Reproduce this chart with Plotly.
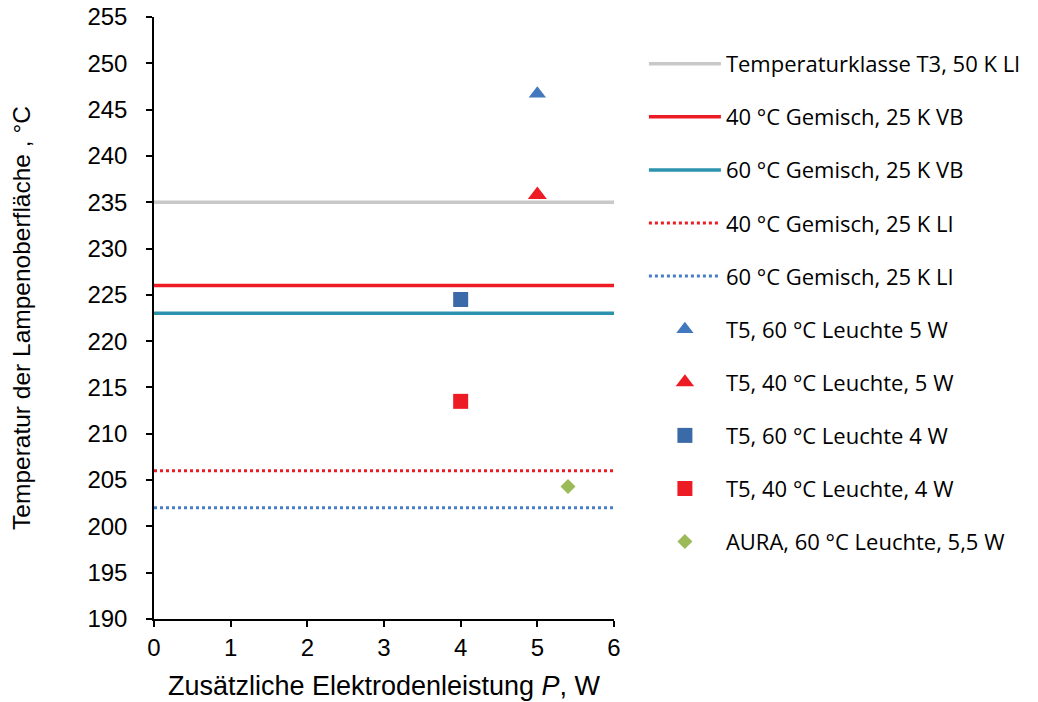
import plotly.graph_objects as go

# Horizontal reference lines (x from 0 to 6)
line_x = [0, 6]
line_names = [
    "Temperaturklasse T3, 50 K LI",
    "40 °C Gemisch, 25 K VB",
    "60 °C Gemisch, 25 K VB",
    "40 °C Gemisch, 25 K LI",
    "60 °C Gemisch, 25 K LI",
]
line_values = [235, 226, 223, 206, 202]
line_colors = ["#C8C8C8", "#ED1C24", "#2C93AF", "#ED1C24", "#4A7EC4"]
line_dash = ["solid", "solid", "solid", "dot", "dot"]

# Measured points
point_names = [
    "T5, 60 °C Leuchte 5 W",
    "T5, 40 °C Leuchte, 5 W",
    "T5, 60 °C Leuchte 4 W",
    "T5, 40 °C Leuchte, 4 W",
    "AURA, 60 °C Leuchte, 5,5 W",
]
point_x = [5, 5, 4, 4, 5.4]
point_y = [246.7, 235.8, 224.5, 213.5, 204.3]
point_symbols = ["triangle-up", "triangle-up", "square", "square", "diamond"]
point_colors = ["#4178BE", "#ED1C24", "#3A6BA8", "#ED1C24", "#9BBB59"]
point_sizes = [15, 16.5, 15, 15, 11.5]

x_ticks = [0, 1, 2, 3, 4, 5, 6]
y_ticks = list(range(190, 256, 5))

fig = go.Figure()
for i, (n, v, c, d) in enumerate(zip(line_names, line_values, line_colors, line_dash)):
    fig.add_trace(go.Scatter(
        x=line_x, y=[v, v], mode="lines", name=n, legendgroup=f"g{i}",
        line=dict(color=c, width=3.5 if d == "solid" else 3, dash=d),
    ))
for i, (n, xx, yy, s, c, sz) in enumerate(zip(point_names, point_x, point_y, point_symbols, point_colors, point_sizes)):
    fig.add_trace(go.Scatter(
        x=[xx], y=[yy], mode="markers", name=n, legendgroup=f"p{i}",
        marker=dict(symbol=s, color=c, size=sz, line=dict(width=0)),
    ))

axis_font = dict(family="Liberation Sans, Arial", size=24, color="#000000")
xtitle_font = dict(family="Liberation Sans, Arial", size=27, color="#000000")
ytitle_font = dict(family="Liberation Sans, Arial", size=24.5, color="#000000")
fig.update_layout(
    width=1038, height=702,
    margin=dict(l=154, r=424, t=17, b=83),
    paper_bgcolor="white", plot_bgcolor="white",
    showlegend=True,
    legend=dict(
        x=1.065, y=0.957, xanchor="left", yanchor="top",
        font=dict(family="Open Sans, Noto Sans", size=22, color="#000000"),
        tracegroupgap=21.5, itemwidth=72,
        bgcolor="rgba(0,0,0,0)",
    ),
    xaxis=dict(
        range=[0, 6], tickvals=x_ticks, ticktext=[str(t) for t in x_ticks],
        showline=True, linecolor="#000000", linewidth=1.5,
        ticks="outside", ticklen=6, tickcolor="#000000", tickwidth=1.5,
        showgrid=False, zeroline=False, tickfont=axis_font, automargin=False,
        title=dict(text="Zusätzliche Elektrodenleistung <i>P</i>, W", font=xtitle_font, standoff=17),
    ),
    yaxis=dict(
        range=[190, 255], tickvals=y_ticks, ticktext=[str(t) for t in y_ticks],
        showline=True, linecolor="#000000", linewidth=1.5,
        ticks="outside", ticklen=6, tickcolor="#000000", tickwidth=1.5,
        ticklabelstandoff=14, automargin=False,
        showgrid=False, zeroline=False, tickfont=axis_font,
        title=dict(text="Temperatur der Lampenoberfläche , °C", font=ytitle_font, standoff=50),
    ),
)
fig.write_html("out.html")
